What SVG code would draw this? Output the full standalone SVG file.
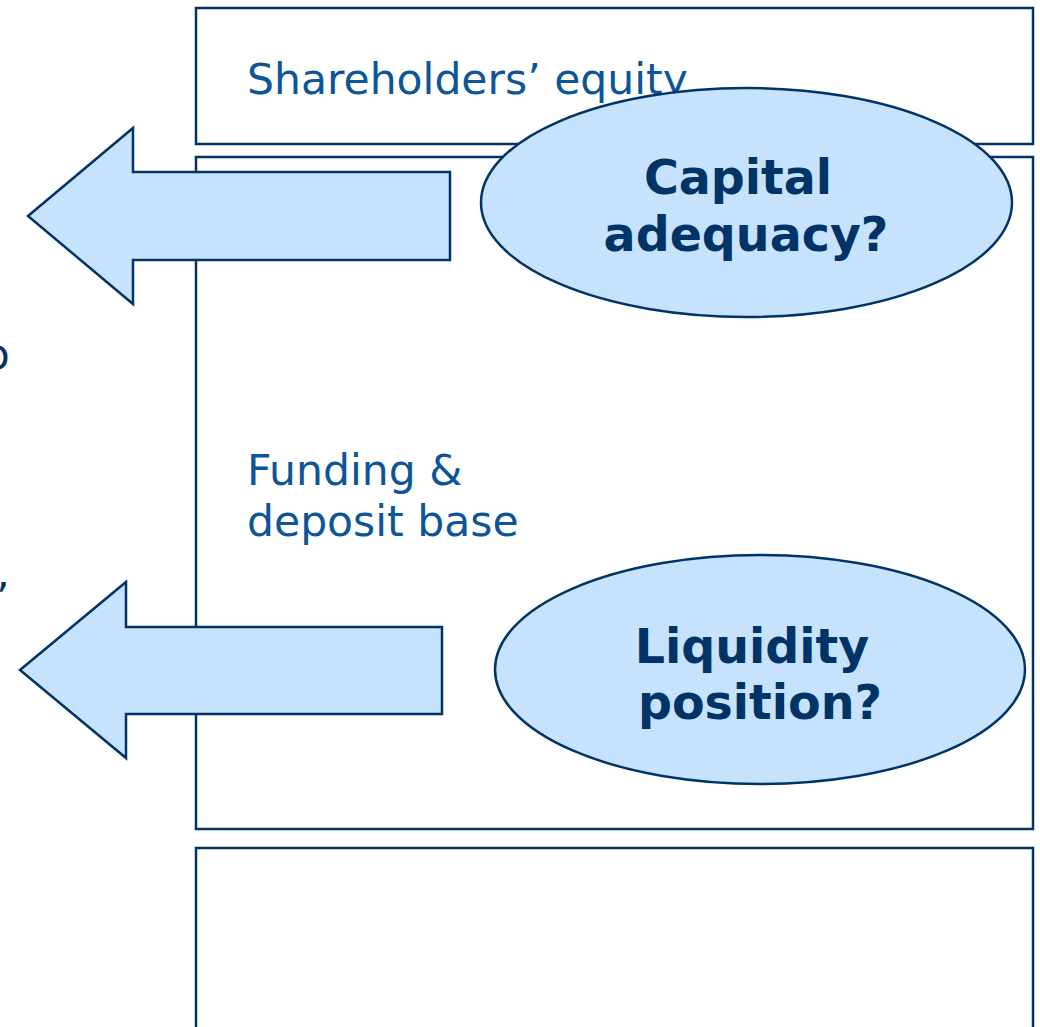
<svg xmlns="http://www.w3.org/2000/svg" width="1040" height="1027" viewBox="0 0 1040 1027">
  <style>
    .box { fill: #ffffff; stroke: #003366; stroke-width: 2.5; }
    .shape { fill: #c6e2fc; stroke: #003366; stroke-width: 2.5; }
    .label { font-family: "DejaVu Sans", Verdana, sans-serif; font-size: 42.5px; fill: #0d5597; }
    .title { font-family: "DejaVu Sans", Verdana, sans-serif; font-size: 47.5px; font-weight: bold; fill: #003366; text-anchor: middle; }
    .side { font-family: "DejaVu Sans", Verdana, sans-serif; font-size: 42px; fill: #003366; }
  </style>

  <!-- balance sheet blocks -->
  <g id="equity">
    <rect class="box" x="196" y="8" width="837" height="136"/>
    <text class="label" x="247" y="94">Shareholders’ equity</text>
  </g>
  <g id="funding">
    <rect class="box" x="196" y="157" width="837" height="672"/>
    <text class="label" x="247" y="485">Funding &amp;</text>
    <text class="label" x="247" y="536">deposit base</text>
  </g>
  <g id="lower-block">
    <rect class="box" x="196" y="848" width="837" height="200"/>
  </g>

  <!-- side text running off the left edge -->
  <g id="side-text">
    <text class="side" x="-16" y="369">o</text>
    <text class="side" x="-4" y="613">’</text>
  </g>

  <!-- outward arrows -->
  <g id="connectors">
    <polygon class="shape" points="28,216 133,128 133,172 450,172 450,260 133,260 133,304"/>
    <polygon class="shape" points="20,670 126,582 126,627 442,627 442,714 126,714 126,758"/>
  </g>

  <g id="capital">
    <ellipse class="shape" cx="746.5" cy="202.5" rx="265.5" ry="114.5"/>
    <text class="title" x="738" y="194">Capital</text>
    <text class="title" x="746" y="251">adequacy?</text>
  </g>
  <g id="liquidity">
    <ellipse class="shape" cx="760" cy="669.5" rx="265" ry="114.5"/>
    <text class="title" x="752" y="663">Liquidity</text>
    <text class="title" x="760" y="719">position?</text>
  </g>
</svg>
